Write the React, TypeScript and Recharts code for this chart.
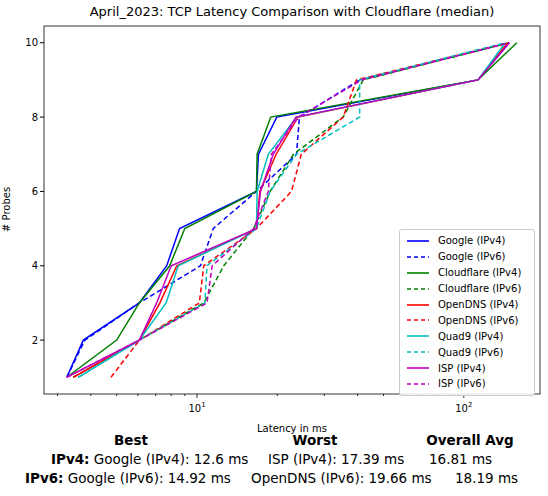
import { LineChart, Line, XAxis, YAxis } from "recharts";

const probes = [1, 2, 3, 4, 5, 6, 7, 8, 9, 10];
const googleV4 = [3.25, 3.75, 6.08, 7.7, 8.6, 16.7, 17.0, 19.9, 113, 148];
const googleV6 = [3.25, 3.8, 6.08, 10.3, 11.5, 16.7, 23.6, 24.2, 40.7, 148];
const cloudflareV4 = [3.25, 5.0, 6.08, 7.9, 9.0, 16.7, 16.8, 18.9, 113, 158];
const cloudflareV6 = [3.44, 6.08, 10.6, 12.6, 16.3, 18.8, 23.0, 35.3, 42, 148];
const openDnsV4 = [3.44, 6.08, 7.26, 8.4, 16.7, 17.2, 19.8, 23.9, 113, 146];
const openDnsV6 = [4.76, 6.08, 10.2, 10.6, 16.7, 22.6, 24.6, 35.3, 39.6, 148];
const quad9V4 = [3.59, 6.08, 7.66, 8.5, 16.7, 16.8, 18.5, 23.6, 113, 143];
const quad9V6 = [3.59, 6.08, 10.7, 10.9, 16.7, 18.8, 23.6, 40.7, 40.7, 143];
const ispV4 = [3.25, 6.08, 7.06, 8.0, 16.7, 17.3, 19.3, 23.5, 113, 148];
const ispV6 = [3.25, 6.08, 10.9, 11.4, 16.3, 18.5, 19.0, 24.0, 41.5, 148];

const xTicks = [3, 4, 5, 6, 7, 8, 9, 10, 20, 30, 40, 50, 60, 70, 80, 90, 100];
const yTicks = [2, 4, 6, 8, 10];

const series = [
  { name: "Google (IPv4)", values: googleV4, color: "#0000ff", dashed: false },
  { name: "Google (IPv6)", values: googleV6, color: "#0000ff", dashed: true },
  { name: "Cloudflare (IPv4)", values: cloudflareV4, color: "#008000", dashed: false },
  { name: "Cloudflare (IPv6)", values: cloudflareV6, color: "#008000", dashed: true },
  { name: "OpenDNS (IPv4)", values: openDnsV4, color: "#ff0000", dashed: false },
  { name: "OpenDNS (IPv6)", values: openDnsV6, color: "#ff0000", dashed: true },
  { name: "Quad9 (IPv4)", values: quad9V4, color: "#00bfbf", dashed: false },
  { name: "Quad9 (IPv6)", values: quad9V6, color: "#00bfbf", dashed: true },
  { name: "ISP (IPv4)", values: ispV4, color: "#bf00bf", dashed: false },
  { name: "ISP (IPv6)", values: ispV6, color: "#bf00bf", dashed: true },
];

const font = "DejaVu Sans, sans-serif";

// major ticks get a 10^n label, minor ticks only a short mark
function LogTick(props: any) {
  const { x, y, payload } = props;
  const v = payload.value;
  const major = v === 10 || v === 100;
  return (
    <g>
      <line x1={x} x2={x} y1={394} y2={394 + (major ? 4 : 2)} stroke="#000" strokeWidth={0.8} />
      {major && (
        <text x={x} y={412} textAnchor="middle" fontSize={10} fontFamily={font} fill="#000">
          10<tspan dy={-5} fontSize={7}>{v === 10 ? 1 : 2}</tspan>
        </text>
      )}
    </g>
  );
}

function LegendBox() {
  return (
    <div style={{ position: "absolute", left: 399, top: 229, width: 122, background: "rgba(255,255,255,0.85)", border: "1px solid #ccc", borderRadius: 3, padding: "3px 6px", fontFamily: font, fontSize: 10 }}>
      {series.map((s) => (
        <div key={s.name} style={{ display: "flex", alignItems: "center", height: 15.9 }}>
          <svg width={24} height={6} style={{ marginRight: 8 }}>
            <line x1={1} x2={23} y1={3} y2={3} stroke={s.color} strokeWidth={1.6} strokeDasharray={s.dashed ? "4 3" : undefined} />
          </svg>
          {s.name}
        </div>
      ))}
    </div>
  );
}

const tableStyle: any = { position: "absolute", fontFamily: font, fontSize: 13.5, whiteSpace: "nowrap" };

export default function App() {
  return (
    <div style={{ position: "absolute", left: 0, top: 0, width: 548, height: 496, background: "#fff" }}>
      <div style={{ position: "absolute", left: 0, top: 4, width: 584, textAlign: "center", fontFamily: font, fontSize: 13 }}>
        April_2023: TCP Latency Comparison with Cloudflare (median)
      </div>
      <LineChart width={548} height={440} margin={{ top: 26, right: 8, left: 0, bottom: 0 }}>
        <XAxis
          dataKey="x"
          type="number"
          scale="log"
          domain={[2.67, 193]}
          ticks={xTicks}
          allowDataOverflow
          interval={0}
          tickLine={false}
          tick={<LogTick />}
          height={46}
          axisLine={false}
          label={{ value: "Latency in ms", position: "insideBottom", offset: 8, fontSize: 10, fontFamily: font, fill: "#000" }}
        />
        <YAxis
          type="number"
          domain={[0.55, 10.45]}
          ticks={yTicks}
          width={44}
          axisLine={false}
          tickSize={4}
          tickLine={{ stroke: "#000" }}
          tick={{ fontSize: 10, fontFamily: font, fill: "#000" }}
          label={{ value: "# Probes", angle: -90, position: "insideLeft", offset: 6, fontSize: 10, fontFamily: font, fill: "#000", dy: 22 }}
        />
        {series.map((s) => (
          <Line
            key={s.name}
            name={s.name}
            data={s.values.map((v, i) => ({ x: v, y: probes[i] }))}
            dataKey="y"
            stroke={s.color}
            strokeWidth={1.5}
            strokeDasharray={s.dashed ? "5 3" : undefined}
            dot={false}
            isAnimationActive={false}
          />
        ))}
        <rect x={44} y={26} width={496} height={368} fill="none" stroke="#000" strokeWidth={0.8} />
      </LineChart>
      <LegendBox />
      <div style={{ ...tableStyle, left: 131, top: 432, transform: "translateX(-50%)", fontWeight: "bold" }}>Best</div>
      <div style={{ ...tableStyle, left: 315, top: 432, transform: "translateX(-50%)", fontWeight: "bold" }}>Worst</div>
      <div style={{ ...tableStyle, left: 470, top: 432, transform: "translateX(-50%)", fontWeight: "bold" }}>Overall Avg</div>
      <div style={{ ...tableStyle, left: 51, top: 451 }}><b>IPv4:</b> Google (IPv4): 12.6 ms</div>
      <div style={{ ...tableStyle, left: 268, top: 451 }}>ISP (IPv4): 17.39 ms</div>
      <div style={{ ...tableStyle, left: 429, top: 451 }}>16.81 ms</div>
      <div style={{ ...tableStyle, left: 25, top: 470 }}><b>IPv6:</b> Google (IPv6): 14.92 ms</div>
      <div style={{ ...tableStyle, left: 251, top: 470 }}>OpenDNS (IPv6): 19.66 ms</div>
      <div style={{ ...tableStyle, left: 455, top: 470 }}>18.19 ms</div>
    </div>
  );
}
